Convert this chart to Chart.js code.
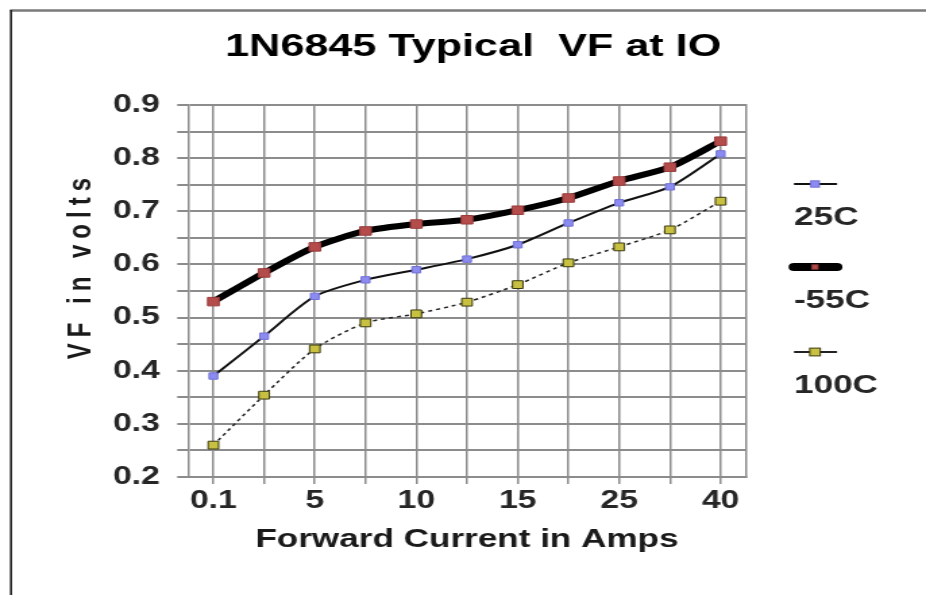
<!DOCTYPE html>
<html>
<head>
<meta charset="utf-8">
<title>1N6845 Typical VF at IO</title>
<script src="https://cdn.jsdelivr.net/npm/chart.js@4.4.1/dist/chart.umd.min.js"></script>
<style>
  html, body { margin: 0; padding: 0; background: #fff; overflow: hidden; }
  canvas { display: block; }
</style>
</head>
<body>
<!-- o original tem letras largas: o canvas e esticado na horizontal -->
<canvas id="grafico" width="686" height="595" style="width: 926px; height: 595px;"></canvas>
<script>
// Dados
const correntes = ['0.1', '', '5', '', '10', '', '15', '', '25', '', '40'];
const vf25 = [0.39, 0.465, 0.54, 0.571, 0.59, 0.61, 0.637, 0.678, 0.716, 0.746, 0.808];
const vfMenos55 = [0.53, 0.584, 0.633, 0.663, 0.676, 0.684, 0.702, 0.725, 0.757, 0.783, 0.832];
const vf100 = [0.26, 0.354, 0.441, 0.49, 0.507, 0.529, 0.562, 0.603, 0.633, 0.665, 0.719];
const legendas = ['25C', '-55C', '100C'];
const yMin = 0.2, yMax = 0.9, yPasso = 0.05;

const fonte = '"Liberation Sans", Arial, sans-serif';
const corGrade = '#8c8c8c';
const corTexto = '#262626';
const escala = 926 / 686;
const px = (x) => x / escala; // posicao na tela -> posicao no canvas

document.addEventListener('DOMContentLoaded', () => {
  const ctx = document.getElementById('grafico').getContext('2d');

  const fundo = {
    id: 'fundo',
    beforeDraw(chart) {
      const c = chart.ctx;
      c.save();
      c.fillStyle = '#fff';
      c.fillRect(0, 0, chart.width, chart.height);
      c.restore();
      // titulo do eixo y mais espacado, como no original
      const ey = chart.scales.y;
      if (!ey._tituloEspacado) {
        const original = ey.drawTitle;
        ey.drawTitle = function () {
          this.ctx.letterSpacing = '6px';
          original.call(this);
          this.ctx.letterSpacing = '0px';
        };
        ey._tituloEspacado = true;
      }
    }
  };

  // moldura da pagina
  const moldura = {
    id: 'moldura',
    afterDraw(chart) {
      const c = chart.ctx;
      c.save();
      c.strokeStyle = '#7a7a7a';
      c.lineWidth = 2.5;
      c.beginPath();
      c.moveTo(px(10), 10.5);
      c.lineTo(chart.width, 10.5);
      c.stroke();
      c.strokeStyle = '#222';
      c.lineWidth = 2.2 / escala;
      c.beginPath();
      c.moveTo(px(11), 10);
      c.lineTo(px(11), chart.height);
      c.stroke();
      c.restore();
    }
  };

  // legenda na lateral: linha em cima, texto embaixo
  const legendaLateral = {
    id: 'legendaLateral',
    afterDraw(chart) {
      const c = chart.ctx;
      const linhas = [184, 267, 352];
      chart.data.datasets.forEach((ds, i) => {
        const y = linhas[i];
        const grossa = ds.borderWidth >= 6;
        c.save();
        c.strokeStyle = ds.borderColor;
        c.lineWidth = grossa ? 8 : 2;
        c.lineCap = grossa ? 'round' : 'butt';
        c.beginPath();
        c.moveTo(px(794), y);
        c.lineTo(px(837), y);
        c.stroke();
        const lado = (grossa ? 3 : ds.pointRadius) * Math.SQRT1_2;
        c.fillStyle = ds.pointBackgroundColor;
        c.fillRect(px(815) - lado, y - lado, lado * 2, lado * 2);
        c.lineWidth = 1;
        c.strokeStyle = ds.pointBorderColor;
        c.strokeRect(px(815) - lado, y - lado, lado * 2, lado * 2);
        c.fillStyle = corTexto;
        c.font = 'bold 26px ' + fonte;
        c.textAlign = 'left';
        c.textBaseline = 'middle';
        c.fillText(ds.label, px(794), y + 34);
        c.restore();
      });
    }
  };

  const data = {
    labels: correntes,
    datasets: [{
      label: legendas[0],
      data: vf25,
      borderColor: '#111',
      borderWidth: 2,
      tension: 0.25,
      pointStyle: 'rect',
      pointRadius: 4.5,
      pointBackgroundColor: '#8c8cf0',
      pointBorderColor: '#7070d8',
      pointBorderWidth: 1
    }, {
      label: legendas[1],
      data: vfMenos55,
      borderColor: '#000',
      borderWidth: 6,
      tension: 0.25,
      pointStyle: 'rect',
      pointRadius: 6,
      pointBackgroundColor: '#b44c4c',
      pointBorderColor: '#9a3a3a',
      pointBorderWidth: 1
    }, {
      label: legendas[2],
      data: vf100,
      borderColor: '#222',
      borderWidth: 1.5,
      borderDash: [3, 3],
      tension: 0.25,
      pointStyle: 'rect',
      pointRadius: 5.5,
      pointBackgroundColor: '#c8c040',
      pointBorderColor: '#3a3a10',
      pointBorderWidth: 1
    }]
  };

  const configuracao = {
    type: 'line',
    data: data,
    plugins: [fundo, moldura, legendaLateral],
    options: {
      responsive: false,
      animation: false,
      layout: { padding: { left: 15, right: 0, top: 0, bottom: 0 } },
      plugins: {
        legend: { display: false },
        tooltip: { enabled: false },
        title: {
          display: true,
          text: '1N6845 Typical  VF at IO',
          color: '#000',
          font: { family: fonte, size: 32, weight: 'bold', lineHeight: 1.2 },
          padding: { top: 28, bottom: 38.6 }
        }
      },
      scales: {
        x: {
          offset: true,
          grid: { offset: false, color: corGrade, lineWidth: 1.5, tickLength: 7 },
          border: { color: corGrade, width: 2 },
          ticks: {
            autoSkip: false, maxRotation: 0, padding: 2,
            color: corTexto,
            font: { family: fonte, size: 25, weight: 'bold' }
          },
          title: {
            display: true,
            text: 'Forward Current in Amps',
            color: '#1a1a1a',
            font: { family: fonte, size: 26, weight: 'bold', lineHeight: 1.2 },
            padding: { top: 0, bottom: 40 }
          },
          afterFit(scale) { scale.height = 118; }
        },
        y: {
          min: yMin,
          max: yMax,
          grid: { color: corGrade, lineWidth: 2, tickLength: 8 },
          border: { color: corGrade, width: 1.5 },
          ticks: {
            stepSize: yPasso,
            autoSkip: false,
            padding: 12.8,
            color: corTexto,
            font: { family: fonte, size: 25, weight: 'bold' },
            callback: (v) => (Math.round(v * 100) % 10 === 0 ? v.toFixed(1) : '')
          },
          title: {
            display: true,
            text: '    VF in volts',
            color: '#1a1a1a',
            font: { family: fonte, size: 24, weight: 'bold', lineHeight: 1.2 },
            padding: { top: 31, bottom: 0 }
          },
          afterFit(scale) { scale.width = px(188) - 15; }
        },
        // eixo vazio a direita: fecha a grade e reserva espaco para a legenda
        direita: {
          type: 'linear',
          position: 'right',
          grid: { display: false },
          ticks: { display: false },
          border: { color: corGrade, width: 1.5 },
          afterFit(scale) { scale.width = 686 - px(746); }
        }
      }
    }
  };

  const myChart = new Chart(ctx, configuracao);
});
</script>
</body>
</html>
